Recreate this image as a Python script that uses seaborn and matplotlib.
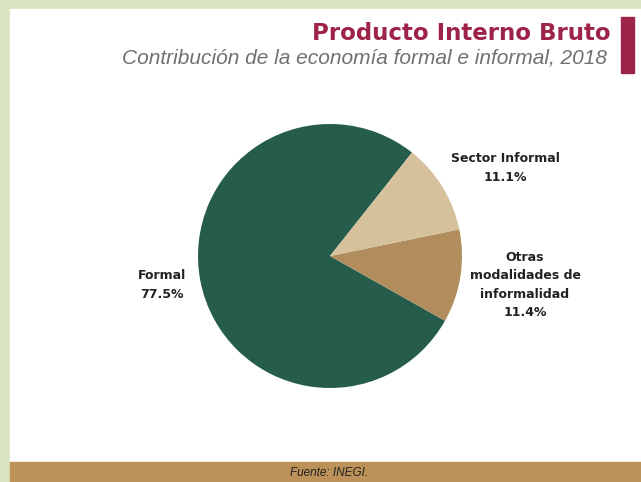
import seaborn as sns
import matplotlib.pyplot as plt
from matplotlib.patches import Rectangle

sectores = ['Formal', 'Otras\nmodalidades de\ninformalidad', 'Sector Informal']
porcentajes = [77.5, 11.4, 11.1]
colores = ['#265c4b', '#b18d5d', '#d5c29c']

sns.set_theme(style='white')
plt.rcParams['font.family'] = ['DejaVu Sans']

W, H = 641, 482
fig = plt.figure(figsize=(W / 100, H / 100), dpi=100, facecolor='#d9e4c1')


def fx(px):
    return px / W


def fy(py):
    return 1 - py / H


# panel blanco y franja inferior
fig.patches.append(Rectangle((fx(10), fy(462)), 1 - fx(10), fy(9) - fy(462),
                             transform=fig.transFigure, color='white', zorder=-2))
fig.patches.append(Rectangle((fx(10), 0), 1 - fx(10), fy(462),
                             transform=fig.transFigure, color='#bc9259', zorder=-2))
fig.patches.append(Rectangle((fx(621), fy(73)), fx(13), fy(17) - fy(73),
                             transform=fig.transFigure, color='#9e2348', zorder=-1))

cx, cy, r = 330, 256, 132
ax = fig.add_axes([fx(cx - r), fy(cy + r), 2 * r / W, 2 * r / H])
ax.set_zorder(2)
ax.patch.set_alpha(0)
ax.pie(porcentajes, colors=colores, startangle=51.6, counterclock=True,
       radius=1, wedgeprops=dict(linewidth=0))
ax.set_xlim(-1, 1)
ax.set_ylim(-1, 1)
ax.set_aspect('auto')
ax.axis('off')

fig.text(fx(611), fy(33), 'Producto Interno Bruto', ha='right', va='center',
         fontsize=16.5, fontweight='bold', color='#9e2348')
fig.text(fx(607), fy(58), 'Contribución de la economía formal e informal, 2018',
         ha='right', va='center', fontsize=15, style='italic',
         family='Liberation Sans', color='#707070')

etiquetas_pos = [(162, 285), (525, 285), (505, 168)]
for nombre, val, (px, py) in zip(sectores, porcentajes, etiquetas_pos):
    fig.text(fx(px), fy(py), f'{nombre}\n{val}%', ha='center', va='center',
             fontsize=9, fontweight='bold', color='#222222', linespacing=1.55)

fig.text(fx(329), fy(473), 'Fuente: INEGI.', ha='center', va='center',
         fontsize=8.5, style='italic', family='Liberation Sans', color='#222222')

fig.savefig('out.png', dpi=100, facecolor=fig.get_facecolor())
